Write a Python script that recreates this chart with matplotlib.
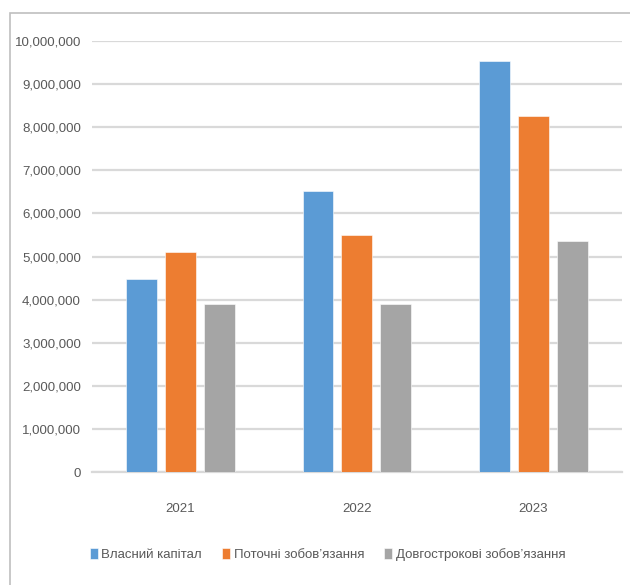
import numpy as np
import matplotlib.pyplot as plt
from matplotlib.patches import Rectangle
from matplotlib.ticker import FuncFormatter

plt.rcParams['font.family'] = ['Liberation Sans', 'DejaVu Sans']

# --- dani (chitayemo z grafika) ---
years = ['2021', '2022', '2023']
series_names = ['Власний капітал', 'Поточні зобов’язання', 'Довгострокові зобов’язання']
vlasnyi = [4480000, 6530000, 9540000]
potochni = [5100000, 5490000, 8270000]
dovgostr = [3900000, 3900000, 5350000]
colors = ['#5B9BD5', '#ED7D31', '#A5A5A5']

fig = plt.figure(figsize=(6.3, 5.85), dpi=100)
ax = fig.add_axes([0.146, 0.193, 0.841, 0.737])

x = np.arange(len(years))
w = 0.175
step = 0.22
for i, (vals, name) in enumerate(zip([vlasnyi, potochni, dovgostr], series_names)):
    ax.bar(x + (i - 1) * step, vals, width=w, color=colors[i], label=name,
           edgecolor='white', linewidth=0.4, zorder=3)

ax.set_xlim(-0.5, 2.5)
ax.set_ylim(0, 10000000)
ax.set_yticks(np.arange(0, 10000001, 1000000))
ax.yaxis.set_major_formatter(FuncFormatter(lambda v, p: f'{int(v):,}'))
ax.set_xticks(x)
ax.set_xticklabels(years)
ax.grid(axis='y', color='#d9d9d9', linewidth=1.6, zorder=0)
for s in ['top', 'right', 'left']:
    ax.spines[s].set_visible(False)
ax.spines['bottom'].set_color('#d9d9d9')
ax.spines['bottom'].set_linewidth(1.6)
ax.tick_params(axis='both', length=0, colors='#595959', labelsize=9.5)
ax.tick_params(axis='y', pad=8)
ax.tick_params(axis='x', pad=22)

fig.legend(loc='center', bbox_to_anchor=(0.52, 0.052), ncol=3, frameon=False,
           fontsize=9.5, handlelength=0.6, handleheight=0.9, handletextpad=0.3,
           columnspacing=1.5, labelcolor='#595959')

# ramka
fig.patches.append(Rectangle((10 / 630, -0.1), 1.2, 1.1 - 13 / 585, transform=fig.transFigure,
                             fill=False, edgecolor='#bfbfbf', linewidth=1.2))

fig.savefig('out.png', dpi=100)
